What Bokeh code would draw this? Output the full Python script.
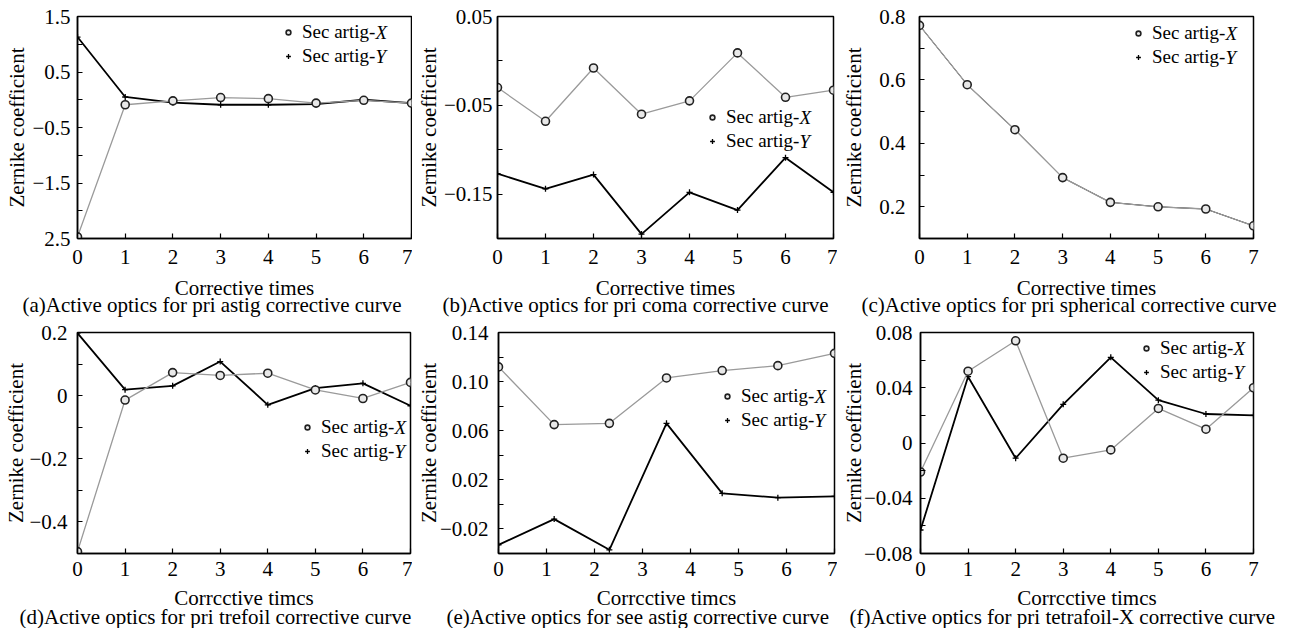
from bokeh.plotting import figure
from bokeh.layouts import column, row
from bokeh.models import Range1d, FixedTicker, Legend, LegendItem, Label, Title
from bokeh.embed import file_html
from bokeh.resources import INLINE

FONT = "Liberation Serif"

# ---------------- data ----------------
times = [0, 1, 2, 3, 4, 5, 6, 7]
times_e = [0, 1.16, 2.31, 3.5, 4.66, 5.82, 7]

a_x = [-2.47, -0.09, -0.02, 0.04, 0.02, -0.06, -0.01, -0.06]
a_y = [1.13, 0.05, -0.05, -0.09, -0.09, -0.08, 0.0, -0.06]
b_x = [-0.030, -0.068, -0.008, -0.060, -0.045, 0.009, -0.041, -0.033]
b_y = [-0.127, -0.144, -0.128, -0.195, -0.148, -0.168, -0.109, -0.148]
c_x = [0.772, 0.585, 0.443, 0.292, 0.214, 0.200, 0.193, 0.140]
c_y = [0.772, 0.585, 0.443, 0.292, 0.214, 0.200, 0.193, 0.140]
d_x = [-0.494, -0.014, 0.073, 0.064, 0.071, 0.018, -0.009, 0.042]
d_y = [0.198, 0.019, 0.031, 0.108, -0.029, 0.024, 0.039, -0.032]
e_x = [0.112, 0.065, 0.066, 0.103, 0.109, 0.113, 0.123]
e_y = [-0.033, -0.012, -0.037, 0.066, 0.009, 0.0055, 0.0065]
f_x = [-0.021, 0.052, 0.074, -0.011, -0.005, 0.025, 0.010, 0.040]
f_y = [-0.063, 0.048, -0.011, 0.028, 0.062, 0.031, 0.021, 0.020]

a_ticks = [1.5, 0.5, -0.5, -1.5, -2.5]
a_labels = ["1.5", "0.5", "\u22120.5", "\u22121.5", "2.5"]
a_minor = [1.0, 0.0, -1.0, -2.0]
b_ticks = [0.05, -0.05, -0.15]
b_labels = ["0.05", "\u22120.05", "\u22120.15"]
b_minor = [0.0, -0.1]
c_ticks = [0.8, 0.6, 0.4, 0.2]
c_labels = ["0.8", "0.6", "0.4", "0.2"]
c_minor = [0.7, 0.5, 0.3]
d_ticks = [0.2, 0.0, -0.2, -0.4]
d_labels = ["0.2", "0", "\u22120.2", "\u22120.4"]
d_minor = [0.1, -0.1, -0.3]
e_ticks = [0.14, 0.10, 0.06, 0.02, -0.02]
e_labels = ["0.14", "0.10", "0.06", "0.02", "\u22120.02"]
e_minor = [0.12, 0.08, 0.04, 0.0]
f_ticks = [0.08, 0.04, 0.0, -0.04, -0.08]
f_labels = ["0.08", "0.04", "0", "\u22120.04", "\u22120.08"]
f_minor = [0.06, 0.02, -0.02, -0.06]

x_title_1 = "Corrective times"
x_title_2 = "Corrcctive timcs"
y_title = "Zernike coefficient"
series_names = ["Sec artig-", "Sec artig-"]
series_italic = ["X", "Y"]
captions = [
    "(a)Active optics for pri astig corrective curve",
    "(b)Active optics for pri coma corrective curve",
    "(c)Active optics for pri spherical corrective curve",
    "(d)Active optics for pri trefoil corrective curve",
    "(e)Active optics for see astig corrective curve",
    "(f)Active optics for pri tetrafoil-X corrective curve",
]


def make_panel(xs, xv, yv, yr, ticks, labels, minor, xlabel, caption, geo,
               leg, gaps, xgaps, cap_pos, y_lw):
    fig_left, fig_top, fl, ft, fw, fh, fig_right, fig_bottom = geo
    p = figure(frame_width=fw, frame_height=fh,
               min_border_left=fl - fig_left, min_border_top=ft - fig_top,
               min_border_right=fig_right - (fl + fw),
               min_border_bottom=fig_bottom - (ft + fh),
               x_range=Range1d(0, 7), y_range=Range1d(*yr),
               output_backend="svg", toolbar_location=None)
    p.xgrid.visible = False
    p.ygrid.visible = False
    p.outline_line_color = "black"
    p.outline_line_width = 1.5
    p.outline_line_alpha = 1.0
    p.background_fill_color = "white"
    p.border_fill_color = "white"

    for ax in (p.xaxis[0], p.yaxis[0]):
        ax.axis_line_width = 1.5
        ax.major_tick_in = 5
        ax.major_tick_out = 0
        ax.minor_tick_in = 5
        ax.minor_tick_out = 0
        ax.major_tick_line_width = 1.2
        ax.minor_tick_line_width = 1.2
        ax.major_label_text_font = FONT
        ax.major_label_text_font_size = "21px"
        ax.major_label_text_color = "black"
        ax.axis_label_text_font = FONT
        ax.axis_label_text_font_size = "21px"
        ax.axis_label_text_font_style = "normal"
        ax.axis_label_text_color = "black"

    xa = p.xaxis[0]
    xa.ticker = FixedTicker(ticks=times)
    xa.minor_tick_line_color = None
    xa.major_label_standoff = xgaps[0]
    xa.axis_label = xlabel
    xa.axis_label_standoff = xgaps[1]

    ya = p.yaxis[0]
    ya.ticker = FixedTicker(ticks=ticks, minor_ticks=minor)
    ya.major_label_overrides = {t: l for t, l in zip(ticks, labels)}
    ya.major_label_standoff = gaps[0]
    ya.axis_label = y_title
    ya.axis_label_standoff = gaps[1]

    # Y series (black, plus markers)
    p.line(xs, yv, line_color="black", line_width=y_lw)
    ry = p.scatter(xs, yv, marker="cross", size=6, line_color="black",
                   line_width=1.3)
    # X series (gray, open circles)
    p.line(xs, xv, line_color="#9a9a9a", line_width=1.3)
    rx = p.scatter(xs, xv, marker="circle", size=8, fill_color="#e8e8e8",
                   line_color="#222222", line_width=1.6)

    dx, dy = leg
    legend = Legend(items=[LegendItem(label=series_names[0], renderers=[rx]),
                           LegendItem(label=series_names[1], renderers=[ry])],
                    location=(dx - 6, fh - dy - 35),
                    border_line_color=None, background_fill_alpha=0,
                    padding=0, margin=0, spacing=2, glyph_width=12,
                    glyph_height=22, label_height=22, label_standoff=8,
                    label_text_font=FONT, label_text_font_size="19px",
                    label_text_baseline="middle", label_text_color="black")
    p.add_layout(legend, "center")
    for i, s in enumerate(series_italic):
        p.add_layout(Label(x=dx + 87, y=fh - dy - 24 * i, x_units="screen",
                           y_units="screen", text=s, text_font=FONT,
                           text_font_size="19px", text_font_style="italic",
                           text_baseline="middle", text_color="black"))

    cap_off, cap_standoff = cap_pos
    p.add_layout(Title(text=caption, align="left", offset=cap_off,
                       text_font=FONT, text_font_size="21px",
                       text_font_style="normal", text_color="black",
                       standoff=cap_standoff), "below")
    return p


pa = make_panel(times, a_x, a_y, (-2.5, 1.5), a_ticks, a_labels, a_minor,
                x_title_1, captions[0], (0, 0, 77, 16, 334, 222, 412, 318),
                (211, 16), (7, 0), (11, 9), (-55, -23), 1.8)
pb = make_panel(times, b_x, b_y, (-0.2, 0.05), b_ticks, b_labels, b_minor,
                x_title_1, captions[1], (412, 0, 497, 16, 336, 222, 837, 318),
                (215, 101), (5, 0), (11, 9), (-55, -23), 1.8)
pc = make_panel(times, c_x, c_y, (0.1, 0.8), c_ticks, c_labels, c_minor,
                x_title_1, captions[2], (837, 0, 919, 16, 334, 222, 1285, 318),
                (219, 17), (14, 10), (11, 9), (-58, -23), 1.0)
pd = make_panel(times, d_x, d_y, (-0.5, 0.2), d_ticks, d_labels, d_minor,
                x_title_2, captions[3], (0, 318, 77, 332, 333, 221, 412, 628),
                (230, 95), (10, -2), (8, 7), (-58, -20), 1.8)
pe = make_panel(times_e, e_x, e_y, (-0.04, 0.14), e_ticks, e_labels, e_minor,
                x_title_2, captions[4], (412, 318, 498, 332, 336, 221, 837, 628),
                (229, 64), (10, -4), (8, 7), (-52, -20), 1.8)
pf = make_panel(times, f_x, f_y, (-0.08, 0.08), f_ticks, f_labels, f_minor,
                x_title_2, captions[5], (837, 318, 920, 332, 333, 221, 1285, 628),
                (226, 16), (8, -5), (8, 7), (-71, -20), 1.8)

layout = column(row(pa, pb, pc), row(pd, pe, pf))
open("out.html", "w").write(file_html(layout, INLINE))
